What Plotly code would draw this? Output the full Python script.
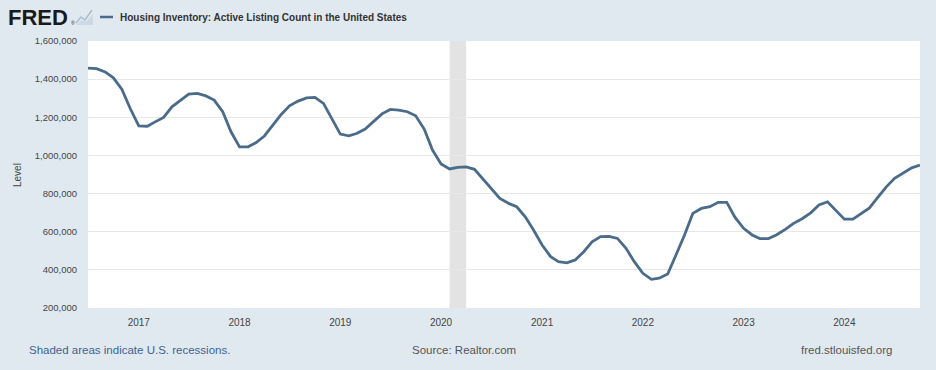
import plotly.graph_objects as go
import pandas as pd

# ---- data (monthly, Jul 2016 - Oct 2024) ----
start_month = "2016-07-01"
listing_values = [
    1458000, 1455000, 1438000, 1407000, 1346000, 1246000,   # Jul-Dec 2016
    1155000, 1153000, 1176000, 1199000, 1255000, 1290000,   # Jan-Jun 2017
    1321000, 1325000, 1312000, 1290000, 1229000, 1124000,   # Jul-Dec 2017
    1045000, 1045000, 1066000, 1102000, 1159000, 1215000,   # Jan-Jun 2018
    1260000, 1285000, 1302000, 1304000, 1273000, 1190000,   # Jul-Dec 2018
    1112000, 1103000, 1115000, 1138000, 1176000, 1218000,   # Jan-Jun 2019
    1241000, 1238000, 1229000, 1208000, 1138000, 1028000,   # Jul-Dec 2019
    955000, 929000, 937000, 940000, 927000, 874000,          # Jan-Jun 2020
    822000, 775000, 749000, 731000, 678000, 609000,          # Jul-Dec 2020
    530000, 469000, 443000, 437000, 452000, 495000,          # Jan-Jun 2021
    547000, 574000, 576000, 565000, 513000, 443000,          # Jul-Dec 2021
    382000, 350000, 356000, 378000, 478000, 583000,          # Jan-Jun 2022
    696000, 722000, 731000, 754000, 754000, 675000,          # Jul-Dec 2022
    618000, 583000, 564000, 564000, 584000, 612000,          # Jan-Jun 2023
    644000, 668000, 699000, 740000, 757000, 710000,          # Jul-Dec 2023
    666000, 666000, 693000, 725000, 780000, 835000,          # Jan-Jun 2024
    880000, 906000, 935000, 949000,                          # Jul-Oct 2024
]
dates = pd.date_range(start_month, periods=len(listing_values), freq="MS")

recession_start = "2020-02-01"
recession_end = "2020-04-01"

y_ticks = [200000, 400000, 600000, 800000, 1000000, 1200000, 1400000, 1600000]
x_ticks = ["2017-01-01", "2018-01-01", "2019-01-01", "2020-01-01",
           "2021-01-01", "2022-01-01", "2023-01-01", "2024-01-01"]
x_tick_labels = ["2017", "2018", "2019", "2020", "2021", "2022", "2023", "2024"]

title_text = "Housing Inventory: Active Listing Count in the United States"
y_label = "Level"
footer_left = "Shaded areas indicate U.S. recessions."
footer_mid = "Source: Realtor.com"
footer_right = "fred.stlouisfed.org"

# ---- styling ----
W, H = 936, 370
ML, MR, MT, MB = 88, 16, 41, 62
PW, PH = W - ML - MR, H - MT - MB
BG = "#e1e9f0"
LINE = "#4a6b8a"
FONT = "Liberation Sans, Arial, sans-serif"


def px(x):
    return (x - ML) / PW


def py(y):
    return (H - MB - y) / PH


fig = go.Figure()
fig.add_trace(go.Scatter(
    x=dates, y=listing_values, mode="lines",
    line=dict(color=LINE, width=2.8, shape="linear"),
    name=title_text, showlegend=False,
    hovertemplate="%{x|%b %Y}: %{y:,}<extra></extra>",
))

fig.add_vrect(x0=recession_start, x1=recession_end, fillcolor="#e3e3e3",
              line_width=0, layer="below")

fig.update_layout(
    width=W, height=H,
    margin=dict(l=ML, r=MR, t=MT, b=MB),
    paper_bgcolor=BG, plot_bgcolor="#ffffff",
    font=dict(family=FONT, color="#555555", size=10),
    xaxis=dict(
        type="date", range=[dates[0], dates[-1]],
        tickvals=x_ticks, ticktext=x_tick_labels,
        showgrid=False, zeroline=False, showline=False,
        ticks="outside", ticklen=5, tickcolor="#dfe5ea",
        tickfont=dict(size=10, color="#444444"),
    ),
    yaxis=dict(
        range=[200000, 1600000], tickvals=y_ticks, tickformat=",",
        showgrid=True, gridcolor="#e8e8e8", gridwidth=1,
        zeroline=False, showline=False, ticks="", ticklabelstandoff=10,
        tickfont=dict(size=9.5, color="#444444"),
    ),
    hovermode="x",
)

annotations = [
    dict(text="<b>" + title_text + "</b>", x=px(118), y=py(17),
         xanchor="left", yanchor="middle", font=dict(size=10, color="#333333")),
    dict(text="<b>FRED</b>", x=px(6), y=py(17), xanchor="left", yanchor="middle",
         font=dict(size=22, color="#1a1a1a", family=FONT)),
    dict(text="®", x=px(69), y=py(23), xanchor="left", yanchor="middle",
         font=dict(size=5, color="#1d1d1d")),
    dict(text=y_label, x=px(17), y=py(175), xanchor="center", yanchor="middle",
         textangle=-90, font=dict(size=10, color="#444444")),
    dict(text=footer_left, x=px(27), y=py(350), xanchor="left", yanchor="middle",
         font=dict(size=11.5, color="#3e6293")),
    dict(text=footer_mid, x=px(464), y=py(350), xanchor="center", yanchor="middle",
         font=dict(size=11.5, color="#555555")),
    dict(text=footer_right, x=px(894), y=py(350), xanchor="right", yanchor="middle",
         font=dict(size=11.5, color="#555555")),
]
for a in annotations:
    a.update(xref="paper", yref="paper", showarrow=False)
fig.update_layout(annotations=annotations)

# legend dash and small logo icon
shapes = [
    dict(type="line", x0=px(100), x1=px(113), y0=py(17), y1=py(17),
         line=dict(color=LINE, width=2.5)),
    dict(type="path",
         path=f"M {px(76)},{py(23)} L {px(81)},{py(17)} L {px(85)},{py(20)} L {px(92)},{py(10)}",
         line=dict(color="#a9bccd", width=1.5)),
    dict(type="path",
         path=f"M {px(76)},{py(25)} L {px(82)},{py(20)} L {px(86)},{py(22)} L {px(93)},{py(14)} L {px(93)},{py(25)} Z",
         line=dict(width=0), fillcolor="#ccd8e3"),
]
for s in shapes:
    s.update(xref="paper", yref="paper")
fig.update_layout(shapes=list(fig.layout.shapes) + shapes)

fig.write_html("out.html", config={"displayModeBar": False},
               post_script="document.body.style.margin='0';")
